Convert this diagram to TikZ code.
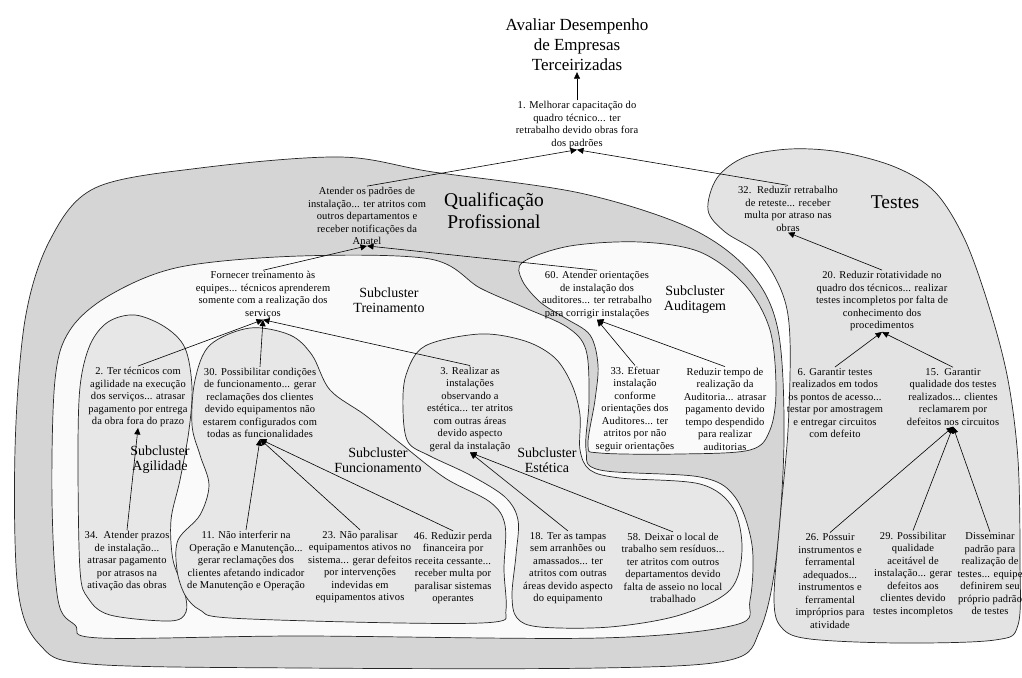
\documentclass[tikz,border=0pt]{standalone}
\usepackage{fontspec}
\setmainfont{Liberation Serif}
\newfontfamily\lbfont{Liberation Serif}[LetterSpace=1.5]
\usetikzlibrary{arrows.meta}
\definecolor{qfill}{HTML}{D5D5D5}
\definecolor{tefill}{HTML}{E3E3E3}
\definecolor{wfill}{HTML}{FAFAFA}
\definecolor{sfill}{HTML}{E7E7E7}
\begin{document}
\begin{tikzpicture}[x=1pt,y=-1pt,
  clu/.style={draw=black!85, line width=0.7pt},
  lbl/.style={font=\lbfont\fontsize{10.5}{12.5}\selectfont, align=center, inner sep=1pt},
  arr/.style={-{Triangle[length=6.5pt,width=6pt]}, line width=0.6pt},
  subl/.style={font=\fontsize{14}{15}\selectfont, align=center, inner sep=0pt},
  bigl/.style={font=\fontsize{19.5}{22}\selectfont, align=center, inner sep=0pt}]
\useasboundingbox (0,0) rectangle (1022,677);
\fill[white] (0,0) rectangle (1022,677);
% clusters
\draw[clu, fill=qfill] plot[smooth cycle, tension=0.55] coordinates {(95,188) (200,168) (340,157) (433,172) (580,193) (690,228) (750,272) (778,330) (784,440) (776,560) (760,630) (730,660) (600,668) (300,668) (90,664) (40,645) (18,590) (15,450) (25,320) (50,240)};
\draw[clu, fill=tefill] plot[smooth cycle, tension=0.55] coordinates {(717,178) (745,157) (790,149) (840,152) (895,167) (935,192) (965,240) (990,310) (1008,380) (1018,460) (1020,560) (1018,625) (995,640) (900,643) (810,639) (782,628) (774,600) (780,520) (788,430) (790,340) (783,295) (760,255) (725,232) (708,210)};
\draw[clu, fill=wfill] plot[smooth cycle, tension=0.55] coordinates {(300,256) (430,259) (480,288) (523,307) (567,327) (586,350) (589,400) (586,450) (600,470) (700,477) (735,497) (752,545) (750,600) (735,625) (600,638) (300,636) (100,638) (75,625) (58,600) (52,500) (55,380) (70,330) (110,295) (180,267)};
\draw[clu, fill=wfill] plot[smooth cycle, tension=0.55] coordinates {(523,262) (570,246) (640,242) (700,252) (745,285) (770,330) (776,390) (770,430) (750,450) (680,454) (600,453) (588,445) (595,400) (598,365) (590,335) (565,318) (540,302) (522,280)};
\draw[clu, fill=sfill] plot[smooth cycle, tension=0.55] coordinates {(135,315) (165,327) (185,348) (192,387) (189,430) (180,480) (171,520) (173,560) (184,590) (186,612) (170,621) (110,615) (88,598) (80,570) (78,460) (80,387) (90,345) (108,322)};
\draw[clu, fill=sfill] plot[smooth cycle, tension=0.55] coordinates {(250,328) (290,335) (312,355) (330,390) (365,415) (400,443) (445,478) (490,502) (505,525) (504,570) (506,610) (495,622) (400,623) (230,618) (200,610) (185,595) (177,570) (178,540) (200,515) (209,485) (200,455) (192,425) (195,380) (210,345)};
\draw[clu, fill=sfill] plot[smooth cycle, tension=0.55] coordinates {(480,334) (525,341) (555,358) (572,385) (580,415) (580,450) (590,470) (620,478) (700,484) (733,508) (742,550) (730,590) (680,615) (610,627) (540,627) (517,618) (512,595) (516,555) (518,520) (505,497) (470,475) (430,456) (408,442) (403,410) (406,375) (425,346)};
% cluster labels
\node[bigl] (lq) at (494,211) {Qualificação\\Profissional};
\node[bigl] (lt) at (895,202) {Testes};
\node[subl] (ltr) at (389,300) {Subcluster\\Treinamento};
\node[subl] (lau) at (695,300) {Subcluster\\Auditagem};
\node[subl] (lag) at (160,460) {Subcluster\\Agilidade};
\node[subl] (lfu) at (378,460) {Subcluster\\Funcionamento};
\node[subl] (les) at (547,460) {Subcluster\\Estética};
% nodes
\node[font=\fontsize{17}{20}\selectfont, align=center, inner sep=1pt] (title) at (577,45) {Avaliar Desempenho\\de Empresas\\Terceirizadas};
\node[lbl] (n1) at (577,125) {1. Melhorar capacitação do\\quadro técnico... ter\\retrabalho devido obras fora\\dos padrões};
\node[lbl] (atd) at (367,216) {Atender os padrões de\\instalação... ter atritos com\\outros departamentos e\\receber notificações da\\Anatel};
\node[lbl] (n32) at (788,209) {32.\ \ Reduzir retrabalho\\de reteste... receber\\multa por atraso nas\\obras};
\node[lbl] (n20) at (882,301) {20. Reduzir rotatividade no\\quadro dos técnicos... realizar\\testes incompletos por falta de\\conhecimento dos\\procedimentos};
\node[lbl] (forn) at (263,295) {Fornecer treinamento às\\equipes... técnicos aprenderem\\somente com a realização dos\\serviços};
\node[lbl] (n60) at (597,295) {60. Atender orientações\\de instalação dos\\auditores... ter retrabalho\\para corrigir instalações};
\node[lbl] (n33) at (635,409) {33. Efetuar\\instalação\\conforme\\orientações dos\\Auditores... ter\\atritos por não\\seguir orientações};
\node[lbl] (nred) at (725,409) {Reduzir tempo de\\realização da\\Auditoria... atrasar\\pagamento devido\\tempo despendido\\para realizar\\auditorias};
\node[lbl] (n2) at (138,397) {2. Ter técnicos com\\agilidade na execução\\dos serviços... atrasar\\pagamento por entrega\\da obra fora do prazo};
\node[lbl] (n30) at (260,403) {30. Possibilitar condições\\de funcionamento... gerar\\reclamações dos clientes\\devido equipamentos não\\estarem configurados com\\todas as funcionalidades};
\node[lbl] (n3) at (470,409) {3. Realizar as\\instalações\\observando a\\estética... ter atritos\\com outras áreas\\devido aspecto\\geral da instalação};
\node[lbl] (n34) at (127,561) {34.\ \ Atender prazos\\de instalação...\\atrasar pagamento\\por atrasos na\\ativação das obras};
\node[lbl] (n11) at (246,561) {11. Não interferir na\\Operação e Manutenção...\\gerar reclamações dos\\clientes afetando indicador\\de Manutenção e Operação};
\node[lbl] (n23) at (360,567) {23. Não paralisar\\equipamentos ativos no\\sistema... gerar defeitos\\por intervenções\\indevidas em\\equipamentos ativos};
\node[lbl] (n46) at (453,568) {46. Reduzir perda\\financeira por\\receita cessante...\\receber multa por\\paralisar sistemas\\operantes};
\node[lbl] (n18) at (568,568) {18. Ter as tampas\\sem arranhões ou\\amassados... ter\\atritos com outras\\áreas devido aspecto\\do equipamento};
\node[lbl] (n58) at (673,568) {58. Deixar o local de\\trabalho sem resíduos...\\ter atritos com outros\\departamentos devido\\falta de asseio no local\\trabalhado};
\node[lbl] (n6) at (835,403) {6. Garantir testes\\realizados em todos\\os pontos de acesso...\\testar por amostragem\\e entregar circuitos\\com defeito};
\node[lbl] (n15) at (953,397) {15.\ \ Garantir\\qualidade dos testes\\realizados... clientes\\reclamarem por\\defeitos nos circuitos};
\node[lbl] (n26) at (830,581) {26. Possuir\\instrumentos e\\ferramental\\adequados...\\instrumentos e\\ferramental\\impróprios para\\atividade};
\node[lbl] (n29) at (913,574) {29. Possibilitar\\qualidade\\aceitável de\\instalação... gerar\\defeitos aos\\clientes devido\\testes incompletos};
\node[lbl] (ndis) at (990,574) {Disseminar\\padrão para\\realização de\\testes... equipe\\definirem seu\\próprio padrão\\de testes};
% connectors
\draw[arr] (n1.north) -- (title.south);
\draw[arr] (atd.north) -- (n1.south);
\draw[arr] (n32.north) -- (n1.south);
\draw[arr] (forn.north) -- (atd.south);
\draw[arr] (n60.north) -- (atd.south);
\draw[arr] (n2.north) -- (forn.south);
\draw[arr] (n30.north) -- (forn.south);
\draw[arr] (n3.north) -- (forn.south);
\draw[arr] (n34.north) -- (n2.south);
\draw[arr] (n11.north) -- (n30.south);
\draw[arr] (n23.north) -- (n30.south);
\draw[arr] (n46.north) -- (n30.south);
\draw[arr] (n18.north) -- (n3.south);
\draw[arr] (n58.north) -- (n3.south);
\draw[arr] (n33.north) -- (n60.south);
\draw[arr] (nred.north) -- (n60.south);
\draw[arr] (n20.north) -- (n32.south);
\draw[arr] (n6.north) -- (n20.south);
\draw[arr] (n15.north) -- (n20.south);
\draw[arr] (n26.north) -- (n15.south);
\draw[arr] (n29.north) -- (n15.south);
\draw[arr] (ndis.north) -- (n15.south);
\end{tikzpicture}
\end{document}
